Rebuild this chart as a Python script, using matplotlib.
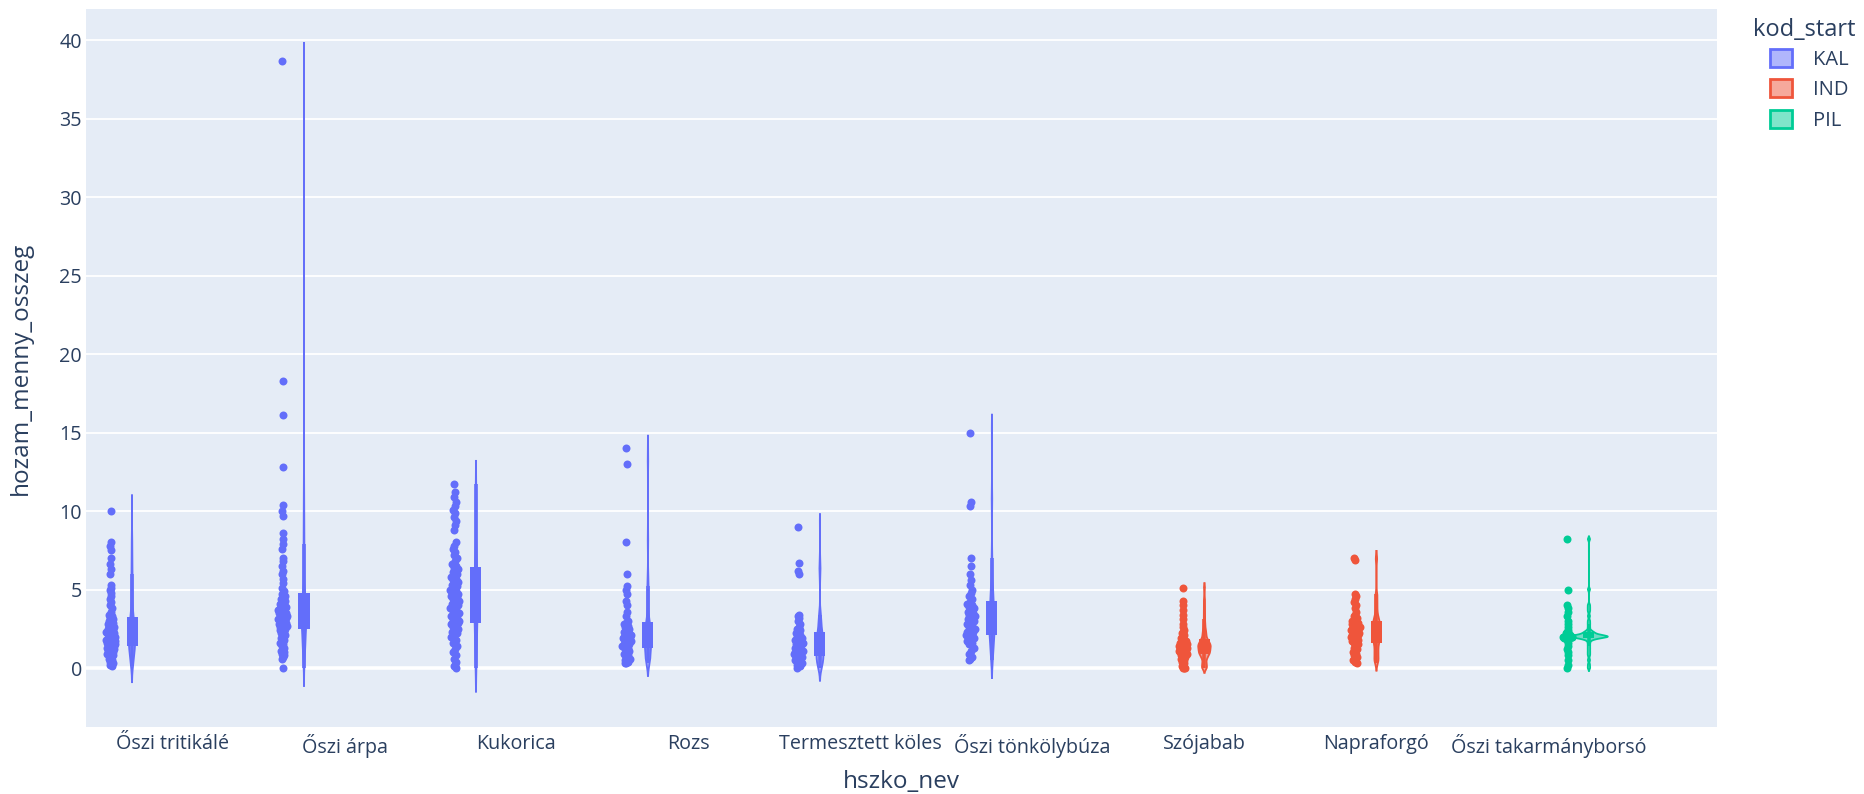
import numpy as np
import matplotlib.pyplot as plt
from matplotlib.patches import Patch

# Categorias (eixo x) e grupo de cada uma
categorias = ["Őszi tritikálé", "Őszi árpa", "Kukorica", "Rozs", "Termesztett köles",
              "Őszi tönkölybúza", "Szójabab", "Napraforgó", "Őszi takarmányborsó"]
grupo_cat = ["KAL", "KAL", "KAL", "KAL", "KAL", "KAL", "IND", "IND", "PIL"]
grupos = ["KAL", "IND", "PIL"]

# Valores (hozam_menny_osszeg), um array por categoria
tritikale = [10.0, 8.0, 7.8, 7.5, 7.0, 6.6, 6.3, 6.0, 5.3, 5.1, 5.0, 4.8, 4.6, 4.4, 4.2, 4.0,
             3.8, 3.6, 3.4, 3.3,
             3.2, 3.1, 3.0, 3.0, 2.9, 2.8, 2.8, 2.7, 2.6, 2.6, 2.5, 2.5, 2.4, 2.4, 2.3, 2.3,
             2.3, 2.2, 2.2, 2.2,
             2.1, 2.1, 2.0, 2.0, 1.9, 1.9, 1.9, 1.8, 1.8, 1.7, 1.7, 1.7, 1.6, 1.6, 1.6, 1.5,
             1.5, 1.5, 1.4, 1.4,
             1.3, 1.3, 1.2, 1.2, 1.1, 1.1, 1.0, 1.0, 0.9, 0.9, 0.8, 0.8, 0.7, 0.6, 0.5, 0.4,
             0.3, 0.3, 0.2, 0.1]
arpa = [38.7, 18.3, 16.1, 12.8, 10.4, 10.0, 9.7, 8.6, 8.2, 7.9, 7.6, 7.0, 6.8, 6.5, 6.2, 6.0,
        5.7, 5.4, 5.1, 4.9,
        4.7, 4.6, 4.5, 4.4, 4.3, 4.2, 4.1, 4.0, 4.0, 3.9, 3.9, 3.8, 3.8, 3.7, 3.7, 3.6, 3.6,
        3.5, 3.5, 3.5,
        3.4, 3.4, 3.3, 3.3, 3.2, 3.2, 3.1, 3.1, 3.0, 3.0, 2.9, 2.9, 2.8, 2.8, 2.7, 2.7, 2.6,
        2.6, 2.5, 2.5,
        2.4, 2.3, 2.2, 2.1, 2.0, 1.9, 1.8, 1.7, 1.6, 1.5, 1.4, 1.3, 1.2, 1.1, 1.0, 0.9, 0.8,
        0.7, 0.6, 0.0]
kukorica = [11.7, 11.2, 10.9, 10.6, 10.3, 10.1, 9.9, 9.6, 9.4, 9.1, 8.8, 8.0, 7.8, 7.6, 7.4,
            7.2, 7.0, 6.8, 6.6, 6.5,
            6.4, 6.3, 6.2, 6.1, 6.0, 5.9, 5.8, 5.7, 5.6, 5.5, 5.4, 5.3, 5.2, 5.1, 5.0, 4.9,
            4.8, 4.7, 4.7, 4.6,
            4.5, 4.4, 4.3, 4.2, 4.1, 4.0, 3.9, 3.8, 3.7, 3.6, 3.5, 3.4, 3.3, 3.2, 3.1, 3.0,
            3.0, 2.9, 2.9, 2.9,
            2.8, 2.7, 2.6, 2.5, 2.4, 2.3, 2.2, 2.1, 2.0, 1.8, 1.6, 1.4, 1.2, 1.0, 0.8, 0.6,
            0.4, 0.2, 0.1, 0.0]
rozs = [14.0, 13.0, 8.0, 6.0, 5.2, 5.0, 4.7, 4.3, 4.0, 3.6, 3.3, 3.0,
        2.9, 2.8, 2.7, 2.6, 2.5, 2.4, 2.3, 2.2, 2.2, 2.1, 2.1, 2.0,
        2.0, 1.9, 1.9, 1.8, 1.7, 1.7, 1.6, 1.5, 1.5, 1.4, 1.4, 1.3,
        1.2, 1.1, 1.0, 0.9, 0.8, 0.7, 0.6, 0.5, 0.5, 0.4, 0.3, 0.3]
koles = [9.0, 6.7, 6.2, 6.0, 3.4, 3.3, 3.2, 3.0, 2.8, 2.6, 2.5, 2.4,
         2.3, 2.2, 2.1, 2.0, 1.9, 1.9, 1.8, 1.7, 1.7, 1.6, 1.6, 1.5,
         1.5, 1.4, 1.3, 1.3, 1.2, 1.1, 1.1, 1.0, 1.0, 0.9, 0.9, 0.8,
         0.7, 0.7, 0.6, 0.5, 0.5, 0.4, 0.3, 0.3, 0.2, 0.1, 0.1, 0.0]
tonkolybuza = [15.0, 10.6, 10.3, 7.0, 6.5, 6.0, 5.6, 5.3, 5.0, 4.8, 4.6, 4.4,
               4.2, 4.1, 4.0, 3.9, 3.8, 3.7, 3.6, 3.5, 3.4, 3.3, 3.2, 3.1,
               3.0, 2.9, 2.8, 2.7, 2.6, 2.5, 2.4, 2.3, 2.3, 2.2, 2.1, 2.1,
               2.0, 1.9, 1.8, 1.7, 1.6, 1.5, 1.3, 1.1, 0.9, 0.7, 0.6, 0.5]
szojabab = [5.1, 4.3, 4.0, 3.7, 3.4, 3.1, 2.8, 2.6, 2.4, 2.3, 2.2, 2.1, 2.0, 1.9,
            1.8, 1.8, 1.7, 1.7, 1.6, 1.6, 1.6, 1.5, 1.5, 1.5, 1.4, 1.4, 1.4, 1.4,
            1.3, 1.3, 1.3, 1.2, 1.2, 1.2, 1.1, 1.1, 1.1, 1.0, 1.0, 1.0, 0.9, 0.9,
            0.9, 0.8, 0.8, 0.7, 0.7, 0.6, 0.5, 0.4, 0.3, 0.2, 0.1, 0.0, 0.0, 0.0]
napraforgo = [7.0, 6.9, 4.7, 4.6, 4.4, 4.2, 4.0, 3.8, 3.6, 3.4, 3.3, 3.2, 3.1, 3.0,
              3.0, 2.9, 2.9, 2.8, 2.8, 2.7, 2.7, 2.6, 2.6, 2.5, 2.5, 2.4, 2.4, 2.3,
              2.3, 2.2, 2.2, 2.1, 2.1, 2.0, 2.0, 1.9, 1.9, 1.8, 1.8, 1.7, 1.7, 1.6,
              1.5, 1.4, 1.3, 1.2, 1.1, 1.0, 0.9, 0.8, 0.7, 0.6, 0.5, 0.4, 0.4, 0.3]
takarmanyborso = [8.2, 5.0, 4.0, 3.8, 3.6, 3.3, 3.0, 2.8, 2.6, 2.4, 2.3, 2.3, 2.2, 2.2,
                  2.2, 2.1, 2.1, 2.1, 2.0, 2.0, 2.0, 2.0, 2.0, 2.0, 2.0, 2.0, 2.0, 2.0,
                  2.0, 2.0, 2.0, 2.0, 1.9, 1.9, 1.9, 1.8, 1.8, 1.6, 1.4, 1.2, 1.0, 0.8,
                  0.5, 0.2, 0.0]

valores = [tritikale, arpa, kukorica, rozs, koles, tonkolybuza, szojabab, napraforgo,
           takarmanyborso]

# Estilo (imitacao do tema plotly)
CORES = {"KAL": "#636efa", "IND": "#EF553B", "PIL": "#00cc96"}
TXT = "#2a3f5f"
FUNDO = "#E5ECF6"
OFFSET = {"KAL": -0.2355, "IND": 0.0, "PIL": 0.2355}
BANDA = [0.5, 0.57, 0.75, 0.4, 0.4, 0.57, 0.15, 0.23, 0.09]   # largura de banda do KDE
PONTOS_DX = -0.124      # pontos a esquerda do violino
JITTER = 0.028
CAIXA_W = 0.064
K_DENS = 0.063          # meia largura do violino por unidade de densidade
plt.rcParams['font.family'] = ['Open Sans', 'DejaVu Sans']


def kde(dados, bw):
    # KDE gaussiano, estendido 2*bw para la dos extremos (como o plotly)
    d = np.asarray(dados, dtype=float)
    ys = np.linspace(d.min() - 2 * bw, d.max() + 2 * bw, 800)
    dens = np.exp(-0.5 * ((ys[:, None] - d[None, :]) / bw) ** 2).sum(axis=1)
    dens /= (len(d) * bw * np.sqrt(2 * np.pi))
    return ys, dens


fig = plt.figure(figsize=(18.64, 7.94), dpi=100)
ax = fig.add_axes([86 / 1864, 1 - 727 / 794, 1631 / 1864, 718 / 794])
ax.set_facecolor(FUNDO)

for i, (dados, g) in enumerate(zip(valores, grupo_cat)):
    cor = CORES[g]
    xc = i + OFFSET[g]
    d = np.asarray(dados, dtype=float)
    ys, dens = kde(d, BANDA[i])
    half = dens * K_DENS
    ax.fill_betweenx(ys, xc - half, xc + half, facecolor=cor, alpha=0.5,
                     edgecolor="none", zorder=3)
    ax.plot(xc - half, ys, color=cor, lw=1.3, zorder=3)
    ax.plot(xc + half, ys, color=cor, lw=1.3, zorder=3)

    # caixa interior (q1-q3) e bigodes
    q1, q3 = np.percentile(d, [25, 75])
    iqr = q3 - q1
    lo = d[d >= q1 - 1.5 * iqr].min()
    hi = d[d <= q3 + 1.5 * iqr].max()
    ax.plot([xc, xc], [lo, hi], color=cor, lw=2.6, zorder=4, solid_capstyle="butt")
    ax.fill_between([xc - CAIXA_W / 2, xc + CAIXA_W / 2], q1, q3, color=cor, zorder=5,
                    linewidth=0)

    # pontos com jitter proporcional a densidade
    dloc = np.interp(d, ys, dens) / dens.max()
    u = (np.arange(len(d)) * 0.6180339887) % 1.0 - 0.5
    xs = xc + PONTOS_DX + u * 2 * JITTER * dloc
    ax.scatter(xs, d, s=33, color=cor, linewidths=0, zorder=6)

ax.set_xlim(-0.503, 8.98)
ax.set_ylim(-3.76, 42.0)
ax.set_xticks(range(len(categorias)))
ax.set_xticklabels(categorias)
ax.set_yticks(range(0, 41, 5))
ax.grid(axis="y", color="white", lw=1.3, zorder=0)
ax.axhline(0, color="white", lw=2.6, zorder=1)
ax.set_axisbelow(True)
for sp in ax.spines.values():
    sp.set_visible(False)
ax.tick_params(length=0, labelsize=14.2, labelcolor=TXT)
ax.tick_params(axis="y", pad=3)
ax.tick_params(axis="x", pad=5)
ax.set_xlabel("hszko_nev", fontsize=17.5, color=TXT)
ax.set_ylabel("hozam_menny_osszeg", fontsize=17.5, color=TXT)
ax.xaxis.set_label_coords(0.5, (727 - 782) / 718)
ax.xaxis.label.set_verticalalignment("center")
ax.yaxis.set_label_coords((21 - 86) / 1631, 0.5)
ax.yaxis.label.set_verticalalignment("center")

# legenda fora da area do grafico
fig.text(1753 / 1864, 1 - 30 / 794, "kod_start", fontsize=17, color=TXT,
         ha="left", va="center")
handles = [Patch(facecolor=CORES[g] + "80", edgecolor=CORES[g], lw=2) for g in grupos]
leg = fig.legend(handles, grupos, loc="upper left", bbox_to_anchor=(1770 / 1864, 1 - 49 / 794),
                 frameon=False, fontsize=14.5, handlelength=1.1, handleheight=1.0,
                 handletextpad=1.05, labelspacing=0.47, borderpad=0, borderaxespad=0)
for t in leg.get_texts():
    t.set_color(TXT)

fig.savefig("out.png", dpi=100, facecolor="white")
